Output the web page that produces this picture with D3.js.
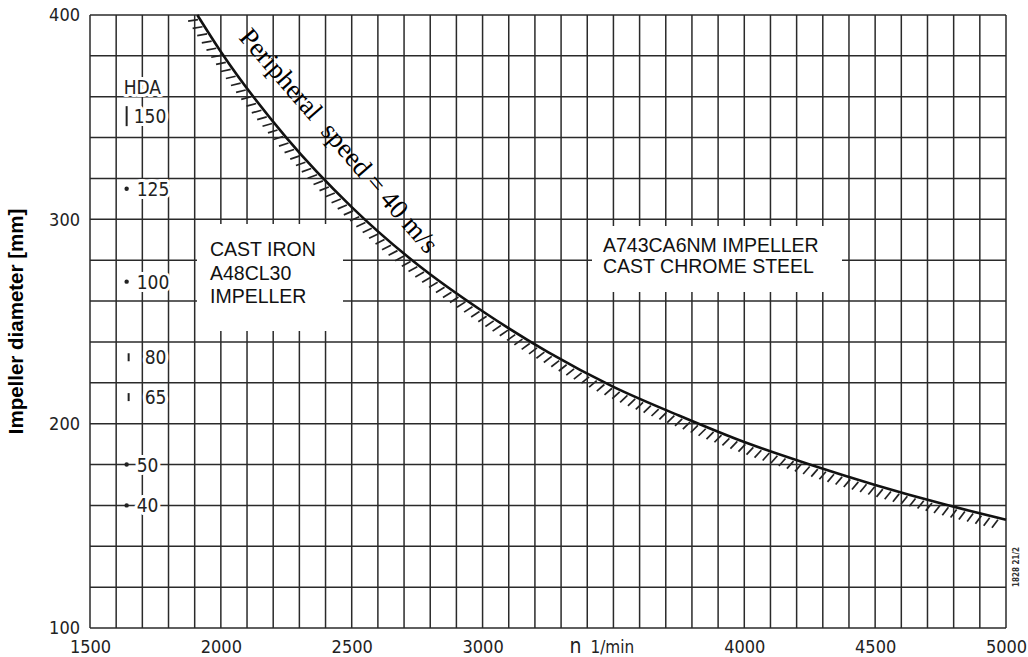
<!DOCTYPE html>
<meta charset="utf-8">
<style>
body { margin:0; background:#fff; }
.grid line { stroke:#2a2a2a; stroke-width:1.5; }
.tick text { font-family:"DejaVu Sans Condensed", "DejaVu Sans", sans-serif; font-size:18px; fill:#222; }
.hda text { font-family:"DejaVu Sans Condensed", "DejaVu Sans", sans-serif; font-size:19px; fill:#222;
	paint-order:stroke; stroke:#fff; stroke-width:6px; stroke-linejoin:round; }
.box text { font-family:"Liberation Sans", Arial, sans-serif; font-size:19.5px; fill:#111; }
</style>
<body>
<svg width="1028" height="657"></svg>
<script src="https://d3js.org/d3.v7.min.js"></script>
<script>

// axis ticks
var xTicks = [1500, 2000, 2500, 3000, 4000, 4500, 5000];
var yTicks = [100, 200, 300, 400];

// 40 m/s peripheral speed line (n in 1/min, D in mm)
var speedN = [1910, 2000, 2250, 2500, 2750, 3000, 3250, 3500, 3750, 4000, 4250, 4500, 4750, 5000];
var speedD = [400, 382, 340, 306, 278, 255, 235, 218, 204, 191, 180, 170, 161, 153];

// HDA pump sizes and their marks on the left
var hdaSizes = ["150", "125", "100", "80", "65", "50", "40"];
var hdaD     = [350.5, 315, 269.5, 232.5, 213, 180, 160];
var hdaMark  = ["bar", "dot", "dot", "tick", "tick", "dot", "dot"];

var svg = d3.select("svg");

var x = d3.scaleLinear().domain([1500, 5000]).range([90, 1006]);
var y = d3.scaleLinear().domain([100, 400]).range([628, 15]);

// grid
var grid = svg.append("g").attr("class", "grid");
grid.selectAll(".vl")
	.data(d3.range(1500, 5001, 100))
	.enter().append("line")
	.attr("class", "vl")
	.attr("x1", x).attr("x2", x)
	.attr("y1", y(400)).attr("y2", y(100));
grid.selectAll(".hl")
	.data(d3.range(100, 401, 20))
	.enter().append("line")
	.attr("class", "hl")
	.attr("x1", x(1500)).attr("x2", x(5000))
	.attr("y1", y).attr("y2", y);

// axes (no lines, just labels)
var xAxis = svg.append("g")
	.attr("transform", "translate(0," + y(100) + ")")
	.call(d3.axisBottom(x).tickValues(xTicks).tickSize(0).tickPadding(12).tickFormat(d3.format("d")));
xAxis.select(".domain").remove();

var yAxis = svg.append("g")
	.attr("transform", "translate(" + x(1500) + ",0)")
	.call(d3.axisLeft(y).tickValues(yTicks).tickSize(0).tickPadding(10).tickFormat(d3.format("d")));
yAxis.select(".domain").remove();

var unit = svg.append("text")
	.attr("x", x(3500) - 44)
	.attr("y", y(100) + 25)
	.style("font-family", "DejaVu Sans Condensed, DejaVu Sans, sans-serif")
	.style("fill", "#222");
unit.append("tspan").style("font-size", "21px").text("n");
unit.append("tspan").attr("dx", 9).style("font-size", "17px").text("1/min");

svg.append("text")
	.attr("transform", "translate(23," + y(250) + ") rotate(-90)")
	.attr("text-anchor", "middle")
	.style("font-family", "Liberation Sans, Arial, sans-serif")
	.style("font-weight", "bold")
	.style("font-size", "20.5px")
	.text("Impeller diameter [mm]");

svg.append("text")
	.attr("transform", "translate(1019,567) rotate(-90)")
	.attr("text-anchor", "middle")
	.style("font-family", "DejaVu Sans Condensed, sans-serif")
	.style("font-weight", "bold")
	.style("font-size", "8px")
	.style("fill", "#333")
	.text("1828 21/2");

// material boxes
var boxes = svg.append("g").attr("class", "box");
boxes.append("rect").attr("x", 197).attr("y", 224).attr("width", 146).attr("height", 107).attr("fill", "#fff");
boxes.append("rect").attr("x", 592).attr("y", 226).attr("width", 250).attr("height", 66).attr("fill", "#fff");
var t1 = boxes.append("text").attr("x", 210).attr("y", 256);
["CAST IRON", "A48CL30", "IMPELLER"].forEach(function(s, i){
	t1.append("tspan").attr("x", 210).attr("dy", i ? 23.5 : 0).text(s);
});
var t2 = boxes.append("text").attr("x", 603).attr("y", 251.5);
["A743CA6NM IMPELLER", "CAST CHROME STEEL"].forEach(function(s, i){
	t2.append("tspan").attr("x", 603).attr("dy", i ? 21 : 0).text(s);
});

// speed line with hatching underneath
var line = d3.line()
	.x(function(d){ return x(d[0]); })
	.y(function(d){ return y(d[1]); })
	.curve(d3.curveMonotoneX);

var speedPath = svg.append("path")
	.datum(d3.zip(speedN, speedD))
	.attr("d", line)
	.attr("fill", "none")
	.attr("stroke", "#111")
	.attr("stroke-width", 2.6);

var node = speedPath.node(),
	total = node.getTotalLength(),
	hatch = [];
for (var l = 5; l < total - 3; l += 8.5) {
	var a = node.getPointAtLength(Math.max(0, l - 1)),
		b = node.getPointAtLength(Math.min(total, l + 1)),
		p = node.getPointAtLength(l);
	var tx = b.x - a.x, ty = b.y - a.y, len = Math.sqrt(tx*tx + ty*ty);
	tx /= len; ty /= len;
	var nx = -ty, ny = tx, ang = 0.4;
	var dx = nx*Math.cos(ang) - tx*Math.sin(ang),
		dy = ny*Math.cos(ang) - ty*Math.sin(ang);
	hatch.push({x1: p.x + dx*2, y1: p.y + dy*2, x2: p.x + dx*12, y2: p.y + dy*12});
}
svg.append("g").selectAll("line")
	.data(hatch)
	.enter().append("line")
	.attr("x1", function(d){ return d.x1; })
	.attr("y1", function(d){ return d.y1; })
	.attr("x2", function(d){ return d.x2; })
	.attr("y2", function(d){ return d.y2; })
	.attr("stroke", "#222")
	.attr("stroke-width", 1.7);

svg.append("text")
	.attr("transform", "translate(238,38) rotate(49)")
	.style("font-family", "Liberation Serif, Times New Roman, serif")
	.style("font-size", "27px")
	.style("fill", "#000")
	.attr("xml:space", "preserve")
	.text("Peripheral  speed = 40 m/s");

// HDA legend
var hx = x(1640);
var hda = svg.append("g").attr("class", "hda");
hda.append("text").attr("x", hx - 3).attr("y", 94).text("HDA");
var rows = hda.selectAll(".row")
	.data(d3.range(hdaSizes.length))
	.enter().append("g")
	.attr("class", "row")
	.attr("transform", function(i){ return "translate(" + hx + "," + y(hdaD[i]) + ")"; });
rows.append("text")
	.attr("x", function(i){ return hdaMark[i] == "tick" ? 18 : hdaMark[i] == "bar" ? 7 : 10; })
	.attr("y", 7)
	.text(function(i){ return hdaSizes[i]; });
rows.each(function(i){
	var g = d3.select(this);
	if (hdaMark[i] == "bar") {
		g.append("line").attr("x1", 0).attr("x2", 0).attr("y1", -10).attr("y2", 10)
			.attr("stroke", "#222").attr("stroke-width", 2);
	} else if (hdaMark[i] == "tick") {
		g.append("line").attr("x1", 2).attr("x2", 2).attr("y1", -4).attr("y2", 4)
			.attr("stroke", "#222").attr("stroke-width", 2);
	} else {
		g.append("circle").attr("cx", 0).attr("r", 2.2).attr("fill", "#222");
	}
});

</script>
</body>
</html>
